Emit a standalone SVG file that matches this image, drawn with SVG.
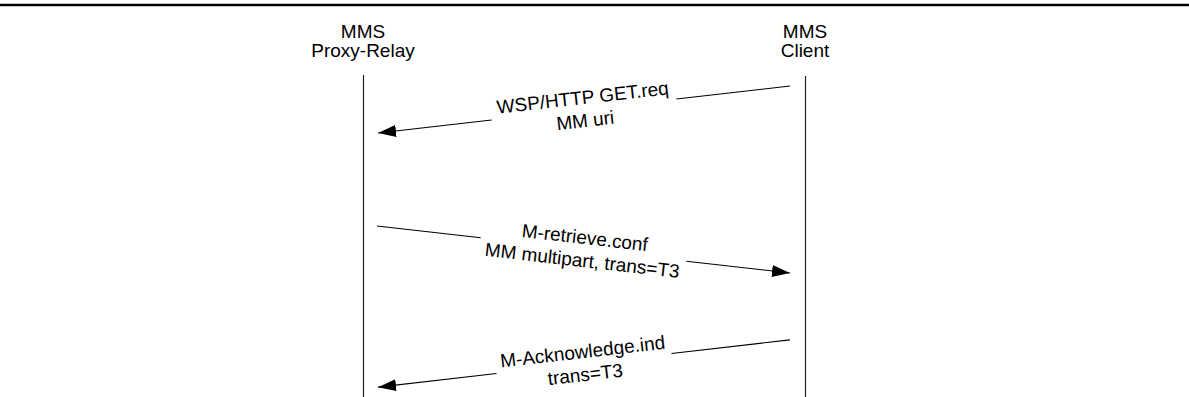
<svg xmlns="http://www.w3.org/2000/svg" width="1189" height="397" viewBox="0 0 1189 397">
<style>
  text { font-family: "Liberation Sans", Arial, sans-serif; font-size: 19px; fill: #000; text-anchor: middle; }
  .life { stroke: #222; stroke-width: 1.2; fill: none; }
  .msg { stroke: #000; stroke-width: 1.1; fill: none; }
</style>
<defs>
  <marker id="ah" markerWidth="18" markerHeight="12" refX="18" refY="6" orient="auto" markerUnits="userSpaceOnUse">
    <path d="M0,0 L18,6 L0,12 Z" fill="#000"/>
  </marker>
</defs>
<rect x="0" y="0" width="1189" height="397" fill="#fff"/>
<line x1="0" y1="5" x2="1189" y2="5" stroke="#000" stroke-width="2.5"/>
<g id="proxy-relay">
  <text x="363" y="38">MMS</text>
  <text x="363" y="57">Proxy-Relay</text>
  <line class="life" x1="363.5" y1="75" x2="363.5" y2="397"/>
</g>
<g id="client">
  <text x="805" y="38">MMS</text>
  <text x="805" y="57">Client</text>
  <line class="life" x1="805.5" y1="76" x2="805.5" y2="397"/>
</g>
<g id="connectors">
  <g id="msg1" transform="translate(584,109.5) rotate(-6.51)">
    <line class="msg" x1="207.3" y1="0" x2="93" y2="0"/>
    <line class="msg" x1="-93" y1="0" x2="-207.3" y2="0" marker-end="url(#ah)"/>
    <text x="0" y="-5.5">WSP/HTTP GET.req</text>
    <text x="0" y="17.5">MM uri</text>
  </g>
  <g id="msg2" transform="translate(583.5,249.5) rotate(6.49)">
    <line class="msg" x1="-207.8" y1="0" x2="-103.5" y2="0"/>
    <line class="msg" x1="103.5" y1="0" x2="207.8" y2="0" marker-end="url(#ah)"/>
    <text x="0" y="-5.5">M-retrieve.conf</text>
    <text x="0" y="17.5">MM multipart, trans=T3</text>
  </g>
  <g id="msg3" transform="translate(584,363.5) rotate(-6.55)">
    <line class="msg" x1="207.3" y1="0" x2="88" y2="0"/>
    <line class="msg" x1="-88" y1="0" x2="-207.3" y2="0" marker-end="url(#ah)"/>
    <text x="0" y="-5.5">M-Acknowledge.ind</text>
    <text x="0" y="17.5">trans=T3</text>
  </g>
</g>
</svg>
